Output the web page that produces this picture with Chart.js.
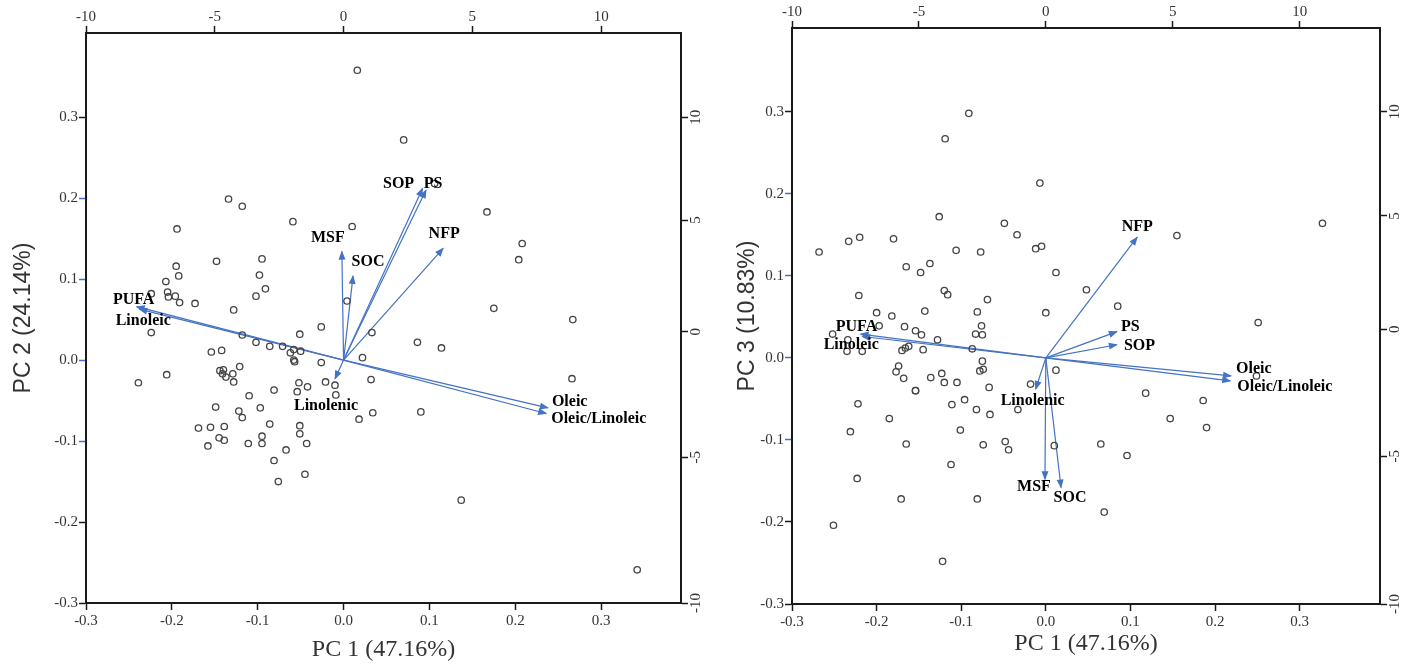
<!DOCTYPE html>
<html>
<head>
<meta charset="utf-8">
<script src="https://cdn.jsdelivr.net/npm/chart.js@4.4.1/dist/chart.umd.min.js"></script>
<style>
html,body{margin:0;padding:0;background:#fff;}
#wrap{position:relative;width:1410px;height:664px;overflow:hidden;background:#fff;}
canvas{position:absolute;top:0;}
</style>
</head>
<body>
<div id="wrap">
<canvas id="c1" width="705" height="664" style="left:0px"></canvas>
<canvas id="c2" width="705" height="664" style="left:705px"></canvas>
</div>
<script>
// ---------------- data ----------------
const PC_TICKS = [-0.3, -0.2, -0.1, 0.0, 0.1, 0.2, 0.3];
const SCORE_TICKS = [-10, -5, 0, 5, 10];
const SCORE_PER_PC = 100 / 3;                         // top axis: -10 <-> -0.3, 10 <-> 0.3
const RIGHT_TICK_AT_PC = [-0.3, -0.12, 0.035, 0.173, 0.3]; // where the right-axis labels -10..10 sit

const VARS = ['PUFA', 'Linoleic', 'MSF', 'SOC', 'SOP', 'PS', 'NFP', 'Linolenic', 'Oleic', 'Oleic/Linoleic'];

// PC1 vs PC2 biplot
const LOAD_A_PC1 = [-0.241, -0.238, -0.002, 0.011, 0.092, 0.096, 0.116, -0.010, 0.238, 0.236];
const LOAD_A_PC2 = [0.066, 0.063, 0.134, 0.104, 0.212, 0.210, 0.138, -0.023, -0.059, -0.066];

const SCORES_A_PC1 = [0.016,0.070,0.106,-0.134,-0.118,0.167,-0.059,0.010,-0.194,0.208,
-0.095,-0.148,0.204,-0.195,-0.098,-0.192,-0.207,-0.091,-0.102,-0.205,
-0.204,-0.196,-0.191,-0.173,-0.224,-0.128,0.004,0.175,0.267,-0.224,
-0.118,-0.051,-0.026,0.033,0.086,0.114,-0.102,-0.086,-0.071,-0.154,
-0.142,-0.062,-0.058,-0.050,-0.058,-0.057,-0.026,0.022,-0.239,-0.206,
-0.144,-0.140,-0.141,-0.137,-0.129,-0.128,-0.121,-0.052,-0.042,-0.054,
-0.021,-0.010,0.032,-0.110,-0.081,-0.149,-0.122,-0.118,-0.097,0.034,
0.090,0.018,-0.086,-0.169,-0.155,-0.139,-0.051,-0.051,-0.145,-0.139,
-0.095,-0.095,-0.158,-0.111,-0.043,-0.067,-0.081,-0.045,-0.076,0.137,
0.266,0.342,-0.009];
const SCORES_A_PC2 = [0.358,0.272,0.218,0.199,0.190,0.183,0.171,0.165,0.162,0.144,
0.125,0.122,0.124,0.116,0.105,0.104,0.097,0.088,0.079,0.084,
0.078,0.079,0.071,0.070,0.082,0.062,0.073,0.064,0.050,0.034,
0.031,0.032,0.041,0.034,0.022,0.015,0.022,0.017,0.017,0.010,
0.012,0.009,0.013,0.011,0.000,-0.002,-0.003,0.003,-0.028,-0.018,
-0.013,-0.012,-0.017,-0.021,-0.017,-0.027,-0.008,-0.028,-0.033,-0.039,
-0.027,-0.031,-0.024,-0.044,-0.037,-0.058,-0.063,-0.071,-0.059,-0.065,
-0.064,-0.073,-0.079,-0.084,-0.083,-0.082,-0.081,-0.091,-0.096,-0.099,
-0.094,-0.103,-0.106,-0.103,-0.103,-0.111,-0.124,-0.141,-0.150,-0.173,
-0.023,-0.259,-0.043];

// PC1 vs PC3 biplot
const LOAD_B_PC1 = [-0.219, -0.217, -0.001, 0.018, 0.084, 0.084, 0.108, -0.012, 0.219, 0.218];
const LOAD_B_PC3 = [0.029, 0.026, -0.148, -0.158, 0.016, 0.032, 0.147, -0.038, -0.022, -0.028];

const SCORES_B_PC1 = [-0.091,-0.119,-0.007,-0.126,-0.049,0.327,-0.034,0.155,-0.180,-0.220,
-0.233,-0.268,-0.106,-0.077,-0.012,-0.005,-0.165,-0.137,-0.148,0.012,
-0.120,-0.116,-0.221,0.048,-0.069,0.085,-0.200,-0.182,-0.143,-0.081,
0.000,0.251,-0.076,-0.197,-0.167,-0.252,-0.234,-0.154,-0.147,-0.128,
-0.083,-0.075,-0.235,-0.217,-0.170,-0.166,-0.162,-0.145,-0.087,-0.075,
-0.074,-0.078,-0.174,-0.177,-0.168,-0.136,-0.123,-0.120,-0.105,-0.154,
-0.067,-0.018,0.012,-0.222,-0.111,-0.096,-0.082,-0.066,-0.033,0.118,
0.147,-0.185,-0.231,-0.101,-0.165,-0.074,-0.048,-0.044,0.010,0.065,
0.096,-0.112,-0.223,-0.171,-0.081,0.069,-0.251,-0.122,0.249,0.186,
0.190,-0.154];
const SCORES_B_PC3 = [0.298,0.267,0.213,0.172,0.164,0.164,0.150,0.149,0.145,0.147,
0.142,0.129,0.131,0.129,0.133,0.136,0.111,0.115,0.104,0.104,
0.082,0.077,0.076,0.083,0.071,0.063,0.055,0.051,0.057,0.056,
0.055,0.043,0.039,0.039,0.038,0.029,0.022,0.033,0.028,0.022,
0.029,0.028,0.008,0.008,0.009,0.012,0.014,0.010,0.011,-0.004,
-0.014,-0.016,-0.010,-0.017,-0.025,-0.024,-0.019,-0.030,-0.030,-0.040,
-0.036,-0.032,-0.015,-0.056,-0.057,-0.051,-0.063,-0.069,-0.063,-0.043,
-0.074,-0.074,-0.090,-0.088,-0.105,-0.106,-0.102,-0.112,-0.107,-0.105,
-0.119,-0.130,-0.147,-0.172,-0.172,-0.188,-0.204,-0.248,-0.022,-0.052,
-0.085,-0.040];

// ---------------- styles / placement ----------------
const SERIF = '"Liberation Serif", "Times New Roman", serif';
const SANS = '"Liberation Sans", Arial, sans-serif';
const BLUE = '#4472C4';
const AXIS_COLOR = '#1a1a1a';
const TEXT_COLOR = '#333333';
const BLUE_TICK_VALUES = [0.2, 0.1, 0.0, -0.1];

// label offsets from arrow tips in px: [dx, dy, align]
const LABEL_POS_A = {
  'PUFA': [-3, -7, 'center'], 'Linoleic': [4, 12, 'center'], 'MSF': [-14, -14, 'center'],
  'SOC': [15, -14, 'center'], 'SOP': [-24, -5, 'center'], 'PS': [7, -6, 'center'],
  'NFP': [1, -15, 'center'], 'Linolenic': [-9, 27, 'center'], 'Oleic': [4, -6, 'left'],
  'Oleic/Linoleic': [5, 5, 'left']
};
const LABEL_POS_B = {
  'PUFA': [-4, -7, 'center'], 'Linoleic': [-11, 8, 'center'], 'MSF': [-11, 8, 'center'],
  'SOC': [9, 10, 'center'], 'SOP': [7, 1, 'left'], 'PS': [4, -5, 'left'],
  'NFP': [0, -10, 'center'], 'Linolenic': [-3, 12, 'center'], 'Oleic': [5, -7, 'left'],
  'Oleic/Linoleic': [7, 6, 'left']
};

const arrowPlugin = {
  id: 'biplotArrows',
  afterDatasetsDraw(chart, args, opts) {
    const ctx = chart.ctx;
    ctx.save();
    chart.data.datasets.forEach((ds, i) => {
      if (!ds.isArrow) return;
      const meta = chart.getDatasetMeta(i);
      const a = meta.data[0], b = meta.data[1];
      const ang = Math.atan2(b.y - a.y, b.x - a.x);
      const L = 8, W = 3.5;
      const c = Math.cos(ang), s = Math.sin(ang);
      ctx.fillStyle = BLUE;
      ctx.beginPath();
      ctx.moveTo(b.x + 1 * c, b.y + 1 * s);
      ctx.lineTo(b.x - L * c + W * s, b.y - L * s - W * c);
      ctx.lineTo(b.x - L * c - W * s, b.y - L * s + W * c);
      ctx.closePath();
      ctx.fill();
      const pos = opts.labelPos[ds.label];
      ctx.font = 'bold 16px ' + SERIF;
      ctx.fillStyle = '#000';
      ctx.textAlign = pos[2];
      ctx.textBaseline = 'middle';
      ctx.fillText(ds.label, b.x + pos[0], b.y + pos[1]);
    });
    ctx.restore();
  }
};

function tickGrid(colorFn) {
  return {
    display: true, drawOnChartArea: false, drawTicks: true,
    tickLength: 7, tickWidth: 1.5, tickColor: colorFn
  };
}
const border = { display: true, color: AXIS_COLOR, width: 2 };

function buildChart(id, c) {
  const datasets = [];
  datasets.push({
    label: 'scores',
    data: c.s1.map((v, i) => ({ x: v, y: c.s2[i] })),
    showLine: false,
    pointRadius: 3.2,
    pointBorderWidth: 1.3,
    pointBorderColor: '#444',
    pointBackgroundColor: 'rgba(0,0,0,0)',
    xAxisID: 'x', yAxisID: 'y'
  });
  VARS.forEach((name, i) => {
    datasets.push({
      label: name, isArrow: true,
      data: [{ x: 0, y: 0 }, { x: c.l1[i], y: c.l2[i] }],
      showLine: true, borderColor: BLUE, borderWidth: 1.2,
      pointRadius: 0, xAxisID: 'x', yAxisID: 'y'
    });
  });

  const leftTickColor = (ctx) => BLUE_TICK_VALUES.some(v => Math.abs(v - ctx.tick.value) < 1e-9) ? BLUE : AXIS_COLOR;

  return new Chart(document.getElementById(id), {
    type: 'scatter',
    data: { datasets },
    plugins: [arrowPlugin],
    options: {
      responsive: false, animation: false, devicePixelRatio: 1, events: [],
      layout: { padding: 0 },
      plugins: {
        legend: { display: false }, tooltip: { enabled: false },
        biplotArrows: { labelPos: c.labelPos }
      },
      scales: {
        x: {
          type: 'linear', position: 'bottom', min: -0.3, max: c.xMax,
          afterBuildTicks: (s) => { s.ticks = PC_TICKS.map(v => ({ value: v })); },
          afterFit: (s) => { s.height = c.box.bottom; },
          ticks: { autoSkip: false, maxRotation: 0, padding: 2, color: TEXT_COLOR,
                   font: { family: SERIF, size: 15 }, callback: (v) => Number(v).toFixed(1) },
          grid: tickGrid(AXIS_COLOR), border,
          title: { display: true, text: 'PC 1 (47.16%)', color: TEXT_COLOR,
                   font: { family: SERIF, size: 24 }, padding: { top: 0, bottom: c.xTitlePad } }
        },
        x2: {
          type: 'linear', axis: 'x', position: 'top',
          min: -0.3 * SCORE_PER_PC, max: c.xMax * SCORE_PER_PC,
          afterBuildTicks: (s) => { s.ticks = SCORE_TICKS.map(v => ({ value: v })); },
          afterFit: (s) => { s.height = c.box.top; },
          ticks: { autoSkip: false, maxRotation: 0, padding: 0, color: TEXT_COLOR,
                   font: { family: SERIF, size: 15 }, callback: (v) => String(v) },
          grid: tickGrid(AXIS_COLOR), border
        },
        y: {
          type: 'linear', position: 'left', min: -0.3, max: c.yMax,
          afterBuildTicks: (s) => { s.ticks = PC_TICKS.map(v => ({ value: v })); },
          afterFit: (s) => { s.width = c.box.left; },
          ticks: { autoSkip: false, padding: 1, color: TEXT_COLOR,
                   font: { family: SERIF, size: 15 }, callback: (v) => Number(v).toFixed(1) },
          grid: tickGrid(leftTickColor), border,
          title: { display: true, text: c.yTitle, color: TEXT_COLOR,
                   font: { family: SANS, size: 23 }, padding: { top: c.yTitlePad, bottom: 0 } }
        },
        y2: {
          type: 'linear', axis: 'y', position: 'right', min: -0.3, max: c.yMax,
          afterBuildTicks: (s) => { s.ticks = RIGHT_TICK_AT_PC.map(v => ({ value: v })); },
          afterFit: (s) => { s.width = c.box.right; },
          ticks: { autoSkip: false, minRotation: 90, maxRotation: 90, crossAlign: 'center',
                   padding: -2, color: TEXT_COLOR, font: { family: SERIF, size: 15 },
                   callback: (v, i) => String(SCORE_TICKS[i]) },
          grid: tickGrid(AXIS_COLOR), border
        }
      }
    }
  });
}

buildChart('c1', {
  s1: SCORES_A_PC1, s2: SCORES_A_PC2, l1: LOAD_A_PC1, l2: LOAD_A_PC2,
  xMax: 0.393, yMax: 0.404, yTitle: 'PC 2 (24.14%)',
  box: { left: 86, right: 24, top: 33, bottom: 61 },
  yTitlePad: 10, xTitlePad: 0, labelPos: LABEL_POS_A
});
buildChart('c2', {
  s1: SCORES_B_PC1, s2: SCORES_B_PC3, l1: LOAD_B_PC1, l2: LOAD_B_PC3,
  xMax: 0.395, yMax: 0.402, yTitle: 'PC 3 (10.83%)',
  box: { left: 87, right: 30, top: 28, bottom: 60 },
  yTitlePad: 29, xTitlePad: 6, labelPos: LABEL_POS_B
});
</script>
</body>
</html>
